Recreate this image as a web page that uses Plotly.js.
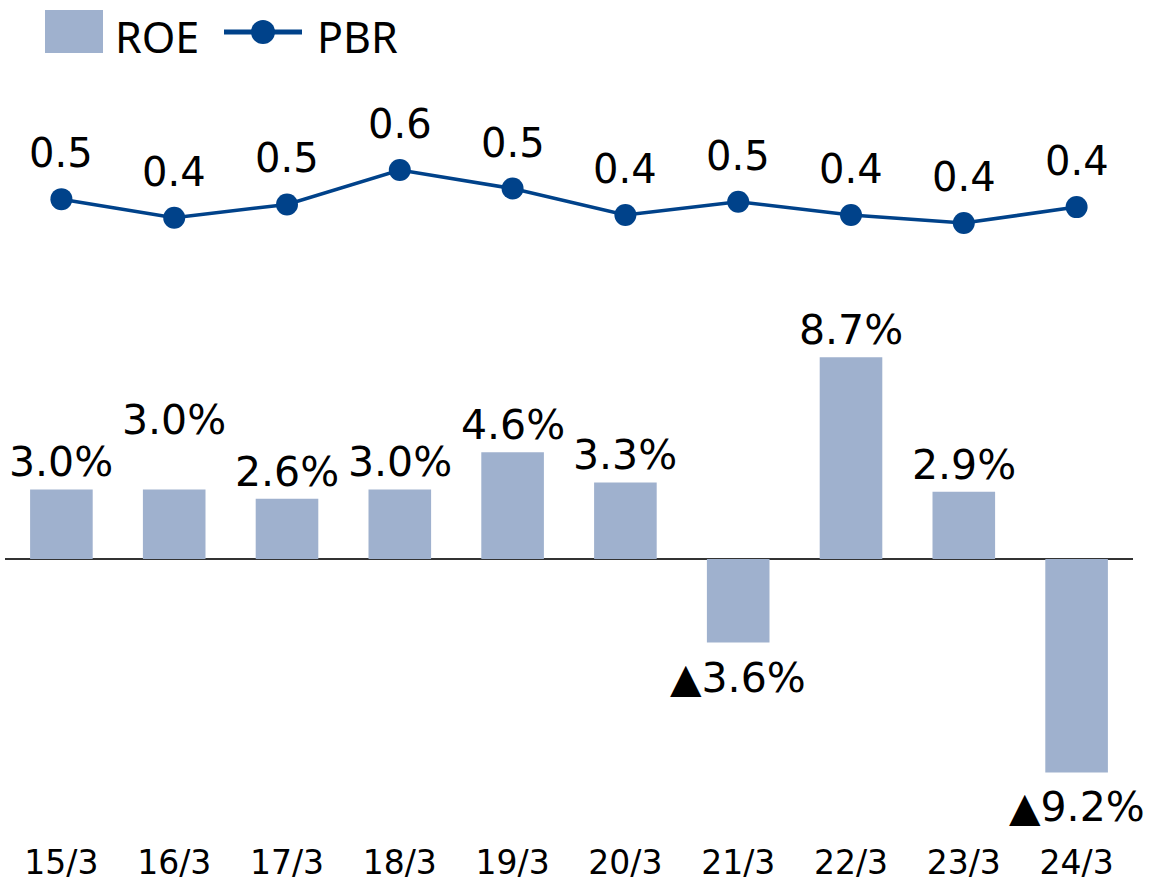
<!DOCTYPE html>
<html>
<head>
<meta charset="utf-8">
<script src="https://cdn.plot.ly/plotly-3.0.1.min.js"></script>
<style>html,body{margin:0;padding:0;background:#fff;}#chart{width:1151px;height:883px;}</style>
</head>
<body>
<div id="chart"></div>
<script>
// ---- data ----
const categories = ["15/3","16/3","17/3","18/3","19/3","20/3","21/3","22/3","23/3","24/3"];
const roeValues  = [3.0, 3.0, 2.6, 3.0, 4.6, 3.3, -3.6, 8.7, 2.9, -9.2];
const roeLabels  = ["3.0%","3.0%","2.6%","3.0%","4.6%","3.3%","▲3.6%","8.7%","2.9%","▲9.2%"];
const pbrValues  = [0.49, 0.42, 0.47, 0.60, 0.53, 0.43, 0.48, 0.43, 0.40, 0.46];
const pbrLabels  = ["0.5","0.4","0.5","0.6","0.5","0.4","0.5","0.4","0.4","0.4"];

// ---- style ----
const BAR_COLOR = "#9fb1ce";
const LINE_COLOR = "#00428a";
const LABEL_FONT = "DejaVu Sans, Verdana, sans-serif";
const LEGEND_FONT = "Noto Sans, Open Sans, sans-serif";

const W = 1151, H = 883;
const M = {l: 5, r: 18, t: 100, b: 53};
const plotW = W - M.l - M.r, plotH = H - M.t - M.b;
const px = x => (x - M.l) / plotW;          // pixel -> paper x
const py = y => (H - M.b - y) / plotH;      // pixel -> paper y

const bars = {
  type: "bar", x: categories, y: roeValues, name: "ROE",
  marker: {color: BAR_COLOR}, width: 0.555, hoverinfo: "x+y",
  showlegend: false
};
const line = {
  type: "scatter", mode: "lines+markers", x: categories, y: pbrValues, yaxis: "y2",
  name: "PBR", line: {color: LINE_COLOR, width: 3.5}, marker: {color: LINE_COLOR, size: 22},
  showlegend: false, cliponaxis: false
};

const annotations = [];
roeValues.forEach((v, i) => {
  const extra = (categories[i] === "16/3") ? 42 : 0;
  annotations.push({
    x: categories[i], y: v, xref: "x", yref: "y", text: roeLabels[i], showarrow: false,
    yanchor: v >= 0 ? "bottom" : "top", yshift: v >= 0 ? 1 + extra : -9,
    font: {family: LABEL_FONT, size: 41, color: "#000"}
  });
});
pbrValues.forEach((v, i) => {
  annotations.push({
    x: categories[i], y: v, xref: "x", yref: "y2", text: pbrLabels[i], showarrow: false,
    yanchor: "bottom", yshift: 21,
    font: {family: LABEL_FONT, size: 40, color: "#000"}
  });
});
// legend texts
annotations.push({xref: "paper", yref: "paper", x: px(113), y: py(37), xanchor: "left", yanchor: "middle",
  text: "ROE", showarrow: false, font: {family: LEGEND_FONT, size: 43, color: "#000"}});
annotations.push({xref: "paper", yref: "paper", x: px(315), y: py(37), xanchor: "left", yanchor: "middle",
  text: "PBR", showarrow: false, font: {family: LEGEND_FONT, size: 43, color: "#000"}});

const shapes = [
  {type: "rect", xref: "paper", yref: "paper", x0: px(45), x1: px(103), y0: py(53), y1: py(10),
   fillcolor: BAR_COLOR, line: {width: 0}},
  {type: "line", xref: "paper", yref: "paper", x0: px(224), x1: px(302), y0: py(32), y1: py(32),
   line: {color: LINE_COLOR, width: 5}},
  {type: "circle", xref: "paper", yref: "paper", x0: px(251), x1: px(275), y0: py(44), y1: py(20),
   fillcolor: LINE_COLOR, line: {width: 0}}
];

const zeroY = 559, pxPerPct = 23.2;
const yRange = [-(H - M.b - zeroY) / pxPerPct, (zeroY - M.t) / pxPerPct];
const y2Ref = 0.60, y2RefPx = 170, pxPerUnit = 265;
const y2Range = [y2Ref - (H - M.b - y2RefPx) / pxPerUnit, y2Ref + (y2RefPx - M.t) / pxPerUnit];

const layout = {
  width: W, height: H, margin: M, paper_bgcolor: "#fff", plot_bgcolor: "#fff",
  showlegend: false, bargap: 0.445,
  xaxis: {type: "category", range: [-0.5, 9.5], showgrid: false, showline: false, ticks: "",
          ticklabelstandoff: 10,
          tickfont: {family: LABEL_FONT, size: 33, color: "#000"}, fixedrange: true},
  yaxis: {range: yRange, showgrid: false, zeroline: true, zerolinecolor: "#333", zerolinewidth: 2,
          showticklabels: false, ticks: "", fixedrange: true},
  yaxis2: {range: y2Range, overlaying: "y", showgrid: false, zeroline: false,
           showticklabels: false, ticks: "", fixedrange: true},
  annotations: annotations, shapes: shapes
};

Plotly.newPlot("chart", [bars, line], layout, {displayModeBar: false, staticPlot: true});
</script>
</body>
</html>
